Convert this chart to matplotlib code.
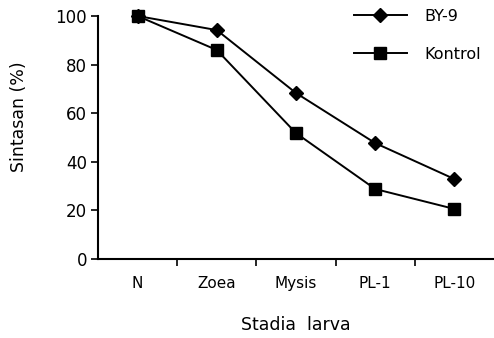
import matplotlib
matplotlib.use("Agg")
import matplotlib.pyplot as plt
from matplotlib.ticker import FixedLocator, NullFormatter

categories = ["N", "Zoea", "Mysis", "PL-1", "PL-10"]
by9 = [100, 94.2, 68.3, 47.7, 32.9]
kontrol = [100, 86.0, 51.8, 28.8, 20.6]
yticks = [0, 20, 40, 60, 80, 100]

plt.rcParams['font.family'] = ['DejaVu Sans']
fig = plt.figure(figsize=(4.94, 3.38), dpi=100)
ax = fig.add_axes([98/494, 1-259/338, 396/494, 243/338])

x = list(range(len(categories)))
ax.plot(x, by9, color='black', lw=1.4, marker='D', ms=7, mfc='black', mec='black', label='BY-9', clip_on=False)
ax.plot(x, kontrol, color='black', lw=1.4, marker='s', ms=9, mfc='black', mec='black', label='Kontrol', clip_on=False)

ax.set_xlim(-0.5, 4.5)
ax.set_ylim(0, 100)
ax.set_yticks(yticks)
ax.set_xticks(x)
ax.set_xticklabels(categories, fontsize=11)
ax.tick_params(axis='x', which='major', length=0, pad=12)
ax.xaxis.set_minor_locator(FixedLocator([0.5, 1.5, 2.5, 3.5]))
ax.xaxis.set_minor_formatter(NullFormatter())
ax.tick_params(axis='x', which='minor', length=5, width=1.2, direction='out')
ax.tick_params(axis='y', length=5, width=1.2, direction='out', labelsize=12, pad=3)
for s in ['top', 'right']:
    ax.spines[s].set_visible(False)
for s in ['left', 'bottom']:
    ax.spines[s].set_linewidth(1.5)

ax.set_ylabel('Sintasan (%)', fontsize=12.5)
ax.yaxis.set_label_coords((28 - 98) / 396, (259 - 117) / 243)
ax.set_xlabel('Stadia  larva', fontsize=12.5, labelpad=18)

leg = fig.legend(handles=ax.get_lines(), loc='upper left', bbox_to_anchor=(354/494, 1-9/338),
                 frameon=False, fontsize=11.5, borderpad=0, borderaxespad=0,
                 handlelength=3.3, labelspacing=1.42, handletextpad=1.1)

fig.savefig('out.png', dpi=100)
